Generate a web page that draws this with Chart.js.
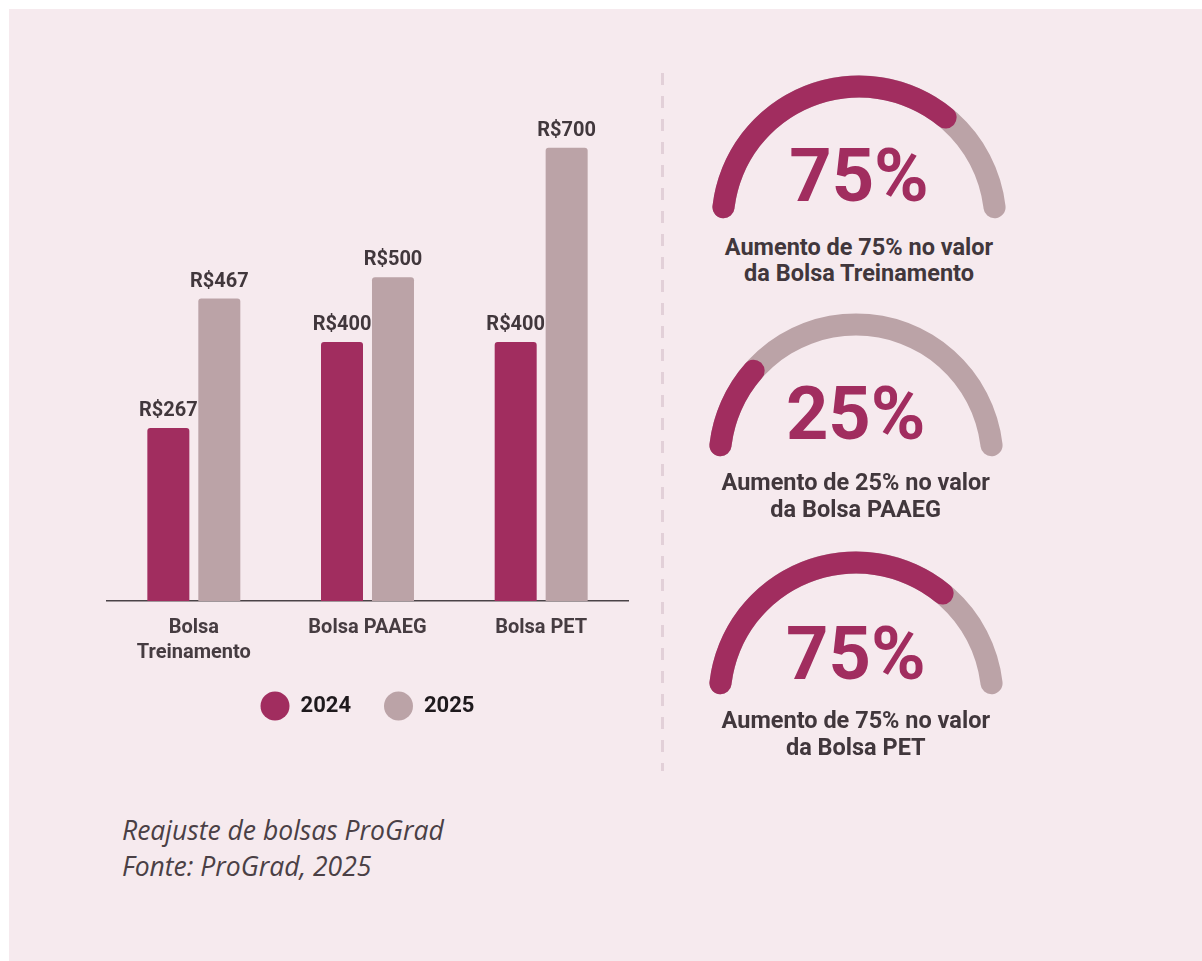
<!DOCTYPE html>
<html lang="pt-BR">
<head>
<meta charset="utf-8">
<title>Reajuste de bolsas ProGrad</title>
<script src="https://cdn.jsdelivr.net/npm/chart.js@4.4.1/dist/chart.umd.min.js"></script>
<style>
  html, body { margin: 0; padding: 0; background: #fff; }
  body { width: 1202px; height: 961px; overflow: hidden; position: relative; font-family: Roboto, 'Noto Sans', sans-serif; }
  .abs { position: absolute; }
  #panel { left: 9px; top: 9px; right: 0; bottom: 0; background: #f6eaee; }
  #bar-wrap { left: 87px; top: 90px; width: 561px; height: 637px; }
  #divider { left: 661px; top: 73px; width: 3px; height: 698px;
    background: repeating-linear-gradient(to bottom, #e2d0d8 0 12px, transparent 12px 23px); }
  .gauge { width: 310px; height: 160px; }
  .gauge canvas { position: absolute; left: 0; top: 0; }
  .pct { left: 0; top: 72px; width: 310px; text-align: center; font-weight: 700; font-size: 74px; line-height: 74px; color: #a12d5f; }
  .desc { left: -30px; top: 167px; width: 370px; text-align: center; font-weight: 700; font-size: 23.5px; line-height: 26.7px; color: #41373c; }
  #caption { left: 122px; top: 813px; font-family: 'Open Sans', sans-serif; font-style: italic; font-size: 26.5px; line-height: 35.5px; color: #4a4045; }
</style>
</head>
<body>
<div id="panel" class="abs"></div>
<div id="bar-wrap" class="abs"><canvas id="bar-chart"></canvas></div>
<div id="divider" class="abs"></div>

<div class="gauge abs" style="left:704px; top:66.6px;">
  <canvas id="g0-track" width="310" height="160"></canvas>
  <canvas id="g0-fill" width="310" height="160"></canvas>
  <div class="pct abs" id="g0-pct"></div>
  <div class="desc abs" id="g0-desc"></div>
</div>
<div class="gauge abs" style="left:700.7px; top:304.9px;">
  <canvas id="g1-track" width="310" height="160"></canvas>
  <canvas id="g1-fill" width="310" height="160"></canvas>
  <div class="pct abs" id="g1-pct"></div>
  <div class="desc abs" id="g1-desc" style="top:164px;"></div>
</div>
<div class="gauge abs" style="left:700.8px; top:543.3px;">
  <canvas id="g2-track" width="310" height="160"></canvas>
  <canvas id="g2-fill" width="310" height="160"></canvas>
  <div class="pct abs" id="g2-pct" style="top:74px;"></div>
  <div class="desc abs" id="g2-desc" style="top:164px;"></div>
</div>

<div id="caption" class="abs">Reajuste de bolsas ProGrad<br>Fonte: ProGrad, 2025</div>

<script>
// Bar chart data
const categories = [['Bolsa', 'Treinamento'], 'Bolsa PAAEG', 'Bolsa PET'];
const years = ['2024', '2025'];
const values2024 = [267, 400, 400];
const values2025 = [467, 500, 700];

// Gauge data
const gaugePercents = [75, 25, 75];
const gaugeNames = ['Bolsa Treinamento', 'Bolsa PAAEG', 'Bolsa PET'];

const MAGENTA = '#a12d5f';
const ROSE = '#bba3a7';
const TEXT = '#41373c';

// Draw "R$..." above every bar
const barValueLabels = {
  id: 'barValueLabels',
  afterDatasetsDraw(chart) {
    const ctx = chart.ctx;
    ctx.save();
    ctx.font = 'bold 20px Roboto';
    ctx.fillStyle = TEXT;
    ctx.textAlign = 'center';
    ctx.textBaseline = 'alphabetic';
    chart.data.datasets.forEach((ds, i) => {
      chart.getDatasetMeta(i).data.forEach((bar, j) => {
        ctx.fillText('R$' + ds.data[j], bar.x, bar.y - 12);
      });
    });
    ctx.restore();
  }
};

function initBarChart() {
  const ctx = document.getElementById('bar-chart').getContext('2d');
  new Chart(ctx, {
    type: 'bar',
    data: {
      labels: categories,
      datasets: [
        { label: years[0], data: values2024, backgroundColor: MAGENTA },
        { label: years[1], data: values2025, backgroundColor: ROSE }
      ]
    },
    options: {
      responsive: true,
      maintainAspectRatio: false,
      animation: false,
      events: [],
      categoryPercentage: 0.587,
      barPercentage: 0.824,
      borderRadius: { topLeft: 3, topRight: 3 },
      borderSkipped: 'bottom',
      layout: { padding: { left: 20, right: 20, top: 18.8, bottom: 0 } },
      scales: {
        x: {
          grid: { display: false, drawTicks: false },
          border: { display: true, color: '#4a4347', width: 1.5 },
          ticks: {
            color: '#463c41',
            padding: 14.5,
            font: { family: 'Roboto', size: 20, weight: 'bold', lineHeight: 1.24 }
          },
          // keep the legend close to the axis, as in the original
          afterFit(scale) { scale.height = 61; }
        },
        y: { display: false, min: 0, max: 760 }
      },
      plugins: {
        tooltip: { enabled: false },
        legend: {
          position: 'bottom',
          labels: {
            usePointStyle: true,
            pointStyle: 'circle',
            pointStyleWidth: 29,
            boxHeight: 20.5,
            padding: 33,
            color: '#1f1a1d',
            font: { family: 'Roboto', size: 22, weight: 'bold' }
          }
        }
      }
    },
    plugins: [barValueLabels]
  });
}

// One gauge = a grey track chart with the magenta progress chart on top
function gaugeOptions() {
  return {
    responsive: false,
    animation: false,
    events: [],
    circumference: 176,
    rotation: -88,
    cutout: '85%',
    radius: 147.5,
    plugins: { legend: { display: false }, tooltip: { enabled: false } }
  };
}

function initGauge(i) {
  const pct = gaugePercents[i];
  new Chart(document.getElementById('g' + i + '-track'), {
    type: 'doughnut',
    data: { datasets: [{ data: [100], backgroundColor: [ROSE], borderWidth: 0, borderRadius: 11 }] },
    options: gaugeOptions()
  });
  new Chart(document.getElementById('g' + i + '-fill'), {
    type: 'doughnut',
    data: { datasets: [{ data: [pct, 100 - pct], backgroundColor: [MAGENTA, 'rgba(0,0,0,0)'], borderWidth: 0, borderRadius: 11 }] },
    options: gaugeOptions()
  });
  document.getElementById('g' + i + '-pct').textContent = pct + '%';
  document.getElementById('g' + i + '-desc').innerHTML =
    'Aumento de ' + pct + '% no valor<br>da ' + gaugeNames[i];
}

Promise.all([
  document.fonts.load('bold 20px Roboto'),
  document.fonts.load('italic 25px "Open Sans"')
]).catch(() => {}).then(() => {
  initBarChart();
  gaugePercents.forEach((p, i) => initGauge(i));
});
</script>
</body>
</html>
